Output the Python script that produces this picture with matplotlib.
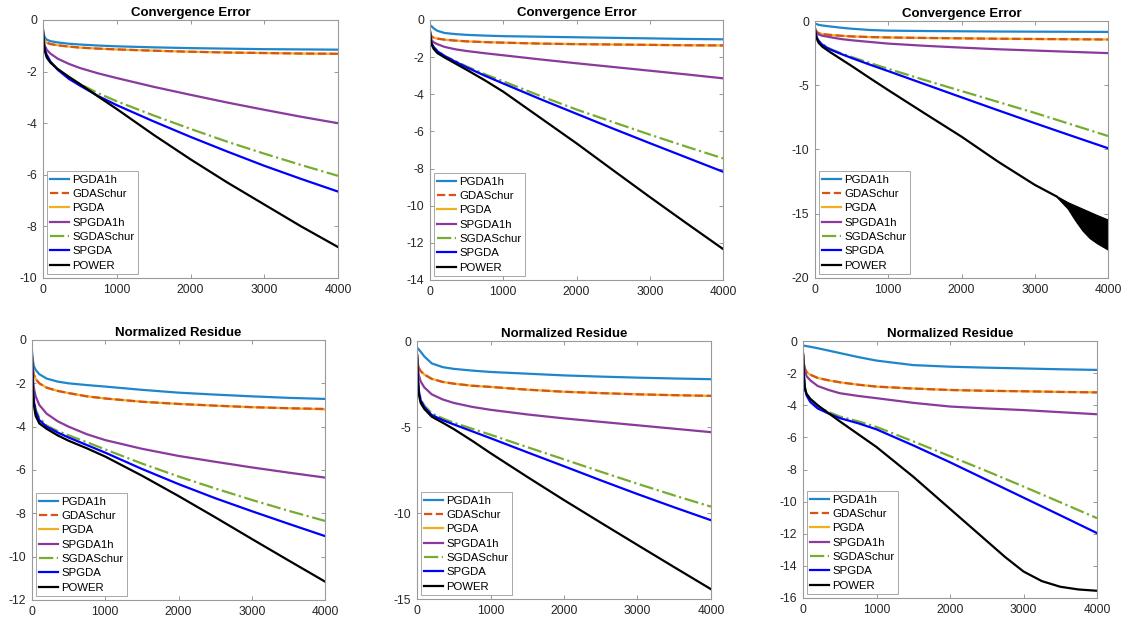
import matplotlib
matplotlib.use("Agg")
import matplotlib.pyplot as plt

plt.rcParams["font.family"] = ["Liberation Sans", "DejaVu Sans"]
plt.rcParams["axes.unicode_minus"] = False

# iteration grid shared by the curves
XS = [0, 10, 25, 50, 100, 200, 350, 500, 750, 1000, 1500, 2000, 2500, 3000, 3500, 4000]

LABELS = ["PGDA1h", "GDASchur", "PGDA", "SPGDA1h", "SGDASchur", "SPGDA", "POWER"]
COLORS = ["#1f86cc", "#D95319", "#EDB120", "#8a3a9c", "#77AC30", "#0000ff", "#000000"]
STYLES = ["-", "--", "-", "-", "-.", "-", "-"]

# Convergence Error, panel 1
ce1_pgda1h = [-0.35, -0.55, -0.68, -0.76, -0.82, -0.87, -0.92, -0.95, -0.99, -1.02, -1.06, -1.09, -1.11, -1.13, -1.14, -1.15]
ce1_gdaschur = [-0.5, -0.7, -0.82, -0.88, -0.93, -0.98, -1.03, -1.07, -1.11, -1.14, -1.19, -1.23, -1.26, -1.28, -1.3, -1.31]
ce1_pgda = [-0.5, -0.7, -0.82, -0.88, -0.93, -0.98, -1.03, -1.07, -1.11, -1.14, -1.19, -1.23, -1.26, -1.28, -1.3, -1.31]
ce1_spgda1h = [-0.5, -0.8, -1.0, -1.15, -1.3, -1.5, -1.7, -1.86, -2.07, -2.25, -2.59, -2.9, -3.2, -3.48, -3.75, -4.0]
ce1_sgdaschur = [-0.5, -0.9, -1.15, -1.35, -1.6, -1.9, -2.23, -2.48, -2.84, -3.15, -3.7, -4.22, -4.72, -5.18, -5.62, -6.04]
ce1_spgda = [-0.5, -0.9, -1.15, -1.35, -1.62, -1.93, -2.28, -2.54, -2.95, -3.3, -3.93, -4.53, -5.1, -5.65, -6.16, -6.65]
ce1_power = [-0.4, -0.9, -1.2, -1.45, -1.65, -1.9, -2.2, -2.48, -2.97, -3.45, -4.45, -5.4, -6.3, -7.15, -8.0, -8.8]

# Convergence Error, panel 2
ce2_pgda1h = [-0.3, -0.3, -0.35, -0.45, -0.58, -0.7, -0.76, -0.8, -0.84, -0.87, -0.9, -0.93, -0.96, -0.99, -1.02, -1.04]
ce2_gdaschur = [-0.6, -0.8, -0.9, -0.95, -1.0, -1.06, -1.11, -1.15, -1.19, -1.22, -1.27, -1.3, -1.32, -1.34, -1.36, -1.37]
ce2_pgda = [-0.6, -0.8, -0.9, -0.95, -1.0, -1.06, -1.11, -1.15, -1.19, -1.22, -1.27, -1.3, -1.32, -1.34, -1.36, -1.37]
ce2_spgda1h = [-0.7, -0.95, -1.1, -1.2, -1.3, -1.45, -1.58, -1.67, -1.79, -1.9, -2.12, -2.33, -2.53, -2.73, -2.93, -3.14]
ce2_sgdaschur = [-0.7, -1.05, -1.3, -1.45, -1.65, -1.93, -2.22, -2.5, -2.92, -3.3, -4.08, -4.82, -5.5, -6.17, -6.82, -7.45]
ce2_spgda = [-0.7, -1.05, -1.3, -1.45, -1.68, -1.95, -2.25, -2.55, -3.0, -3.42, -4.25, -5.05, -5.85, -6.63, -7.4, -8.17]
ce2_power = [-0.6, -1.1, -1.35, -1.55, -1.78, -2.02, -2.35, -2.68, -3.25, -3.86, -5.25, -6.64, -8.09, -9.53, -10.94, -12.33]

# Convergence Error, panel 3
ce3_pgda1h = [-0.2, -0.22, -0.25, -0.3, -0.35, -0.42, -0.52, -0.6, -0.7, -0.75, -0.78, -0.8, -0.82, -0.83, -0.84, -0.85]
ce3_gdaschur = [-0.55, -0.7, -0.85, -0.95, -1.02, -1.08, -1.15, -1.2, -1.25, -1.28, -1.32, -1.35, -1.38, -1.4, -1.42, -1.44]
ce3_pgda = [-0.55, -0.7, -0.85, -0.95, -1.02, -1.08, -1.15, -1.2, -1.25, -1.28, -1.32, -1.35, -1.38, -1.4, -1.42, -1.44]
ce3_spgda1h = [-0.7, -0.85, -0.95, -1.05, -1.15, -1.25, -1.4, -1.5, -1.63, -1.76, -1.93, -2.07, -2.2, -2.3, -2.4, -2.5]
ce3_sgdaschur = [-0.7, -1.0, -1.3, -1.55, -1.8, -2.15, -2.5, -2.8, -3.27, -3.72, -4.6, -5.45, -6.3, -7.15, -8.05, -8.95]
ce3_spgda = [-0.7, -1.0, -1.3, -1.55, -1.85, -2.2, -2.55, -2.88, -3.4, -3.9, -4.92, -5.94, -6.95, -7.95, -8.93, -9.9]
# POWER up to where it starts to oscillate
ce3_power_x = [0, 10, 25, 50, 100, 200, 350, 500, 750, 1000, 1500, 2000, 2500, 3000, 3300]
ce3_power = [-0.7, -1.05, -1.4, -1.7, -2.0, -2.4, -2.95, -3.5, -4.45, -5.38, -7.2, -9.0, -10.95, -12.75, -13.66]
# oscillating tail of POWER in panel 3 (upper / lower envelope)
ce3_osc_x = [3300, 3450, 3550, 3650, 3750, 3850, 4000]
ce3_osc_hi = [-13.62, -14.1, -14.35, -14.6, -14.85, -15.1, -15.45]
ce3_osc_lo = [-13.7, -14.6, -15.5, -16.3, -16.9, -17.3, -17.8]

# Normalized Residue, panel 1
nr1_pgda1h = [-0.5, -0.9, -1.2, -1.38, -1.58, -1.78, -1.92, -2.0, -2.08, -2.15, -2.3, -2.43, -2.52, -2.6, -2.67, -2.72]
nr1_gdaschur = [-0.8, -1.3, -1.6, -1.8, -2.0, -2.2, -2.35, -2.45, -2.6, -2.7, -2.85, -2.95, -3.03, -3.1, -3.15, -3.18]
nr1_pgda = [-0.8, -1.3, -1.6, -1.8, -2.0, -2.2, -2.35, -2.45, -2.6, -2.7, -2.85, -2.95, -3.03, -3.1, -3.15, -3.2]
nr1_spgda1h = [-0.8, -1.6, -2.2, -2.6, -3.0, -3.4, -3.75, -4.0, -4.35, -4.62, -5.02, -5.35, -5.62, -5.88, -6.12, -6.35]
nr1_sgdaschur = [-0.8, -1.9, -2.7, -3.2, -3.6, -3.95, -4.2, -4.4, -4.72, -5.05, -5.7, -6.3, -6.85, -7.38, -7.88, -8.35]
nr1_spgda = [-0.8, -2.0, -2.8, -3.3, -3.7, -4.0, -4.27, -4.5, -4.85, -5.2, -5.95, -6.65, -7.3, -7.9, -8.48, -9.05]
nr1_power = [-0.8, -2.2, -3.0, -3.5, -3.85, -4.1, -4.4, -4.65, -5.0, -5.38, -6.26, -7.2, -8.18, -9.18, -10.17, -11.15]

# Normalized Residue, panel 2
nr2_pgda1h = [-0.4, -0.42, -0.5, -0.62, -0.9, -1.3, -1.52, -1.62, -1.72, -1.8, -1.9, -2.0, -2.07, -2.13, -2.18, -2.22]
nr2_gdaschur = [-0.8, -1.2, -1.55, -1.75, -1.95, -2.2, -2.38, -2.48, -2.6, -2.67, -2.83, -2.95, -3.03, -3.1, -3.15, -3.19]
nr2_pgda = [-0.8, -1.2, -1.55, -1.75, -1.95, -2.2, -2.38, -2.48, -2.6, -2.67, -2.83, -2.95, -3.03, -3.1, -3.15, -3.19]
nr2_spgda1h = [-0.8, -1.5, -2.0, -2.35, -2.7, -3.1, -3.4, -3.6, -3.83, -4.0, -4.27, -4.5, -4.7, -4.9, -5.1, -5.3]
nr2_sgdaschur = [-0.8, -2.0, -2.9, -3.4, -3.75, -4.2, -4.5, -4.75, -5.1, -5.45, -6.17, -6.88, -7.6, -8.3, -8.98, -9.63]
nr2_spgda = [-0.8, -2.0, -2.9, -3.45, -3.85, -4.3, -4.6, -4.85, -5.25, -5.65, -6.47, -7.28, -8.1, -8.9, -9.67, -10.42]
nr2_power = [-0.8, -2.2, -3.1, -3.6, -3.95, -4.4, -4.75, -5.12, -5.8, -6.52, -7.9, -9.25, -10.56, -11.86, -13.15, -14.43]

# Normalized Residue, panel 3
nr3_pgda1h = [-0.3, -0.3, -0.3, -0.32, -0.36, -0.45, -0.6, -0.75, -1.0, -1.22, -1.5, -1.6, -1.66, -1.71, -1.76, -1.8]
nr3_gdaschur = [-0.8, -1.3, -1.7, -1.95, -2.1, -2.3, -2.45, -2.57, -2.72, -2.84, -2.96, -3.05, -3.1, -3.13, -3.17, -3.2]
nr3_pgda = [-0.8, -1.3, -1.7, -1.95, -2.1, -2.3, -2.45, -2.57, -2.72, -2.84, -2.96, -3.05, -3.1, -3.13, -3.17, -3.2]
nr3_spgda1h = [-0.8, -1.5, -1.9, -2.2, -2.45, -2.8, -3.05, -3.25, -3.42, -3.56, -3.85, -4.08, -4.2, -4.3, -4.43, -4.56]
nr3_sgdaschur = [-0.8, -1.9, -2.8, -3.3, -3.7, -4.1, -4.42, -4.7, -5.0, -5.35, -6.25, -7.17, -8.1, -9.06, -10.04, -11.03]
nr3_spgda = [-0.8, -2.0, -2.9, -3.4, -3.8, -4.2, -4.52, -4.8, -5.12, -5.5, -6.5, -7.55, -8.65, -9.75, -10.85, -11.96]
# POWER flattens near the end, so it gets a finer grid
nr3_power_x = [0, 10, 25, 50, 100, 200, 350, 500, 750, 1000, 1500, 2000, 2500, 2750, 3000, 3250, 3500, 3750, 4000]
nr3_power = [-0.8, -2.2, -3.0, -3.3, -3.6, -4.0, -4.5, -5.0, -5.8, -6.6, -8.45, -10.45, -12.45, -13.45, -14.35, -14.95, -15.3, -15.47, -15.55]

panels = [
    ("Convergence Error", [ce1_pgda1h, ce1_gdaschur, ce1_pgda, ce1_spgda1h, ce1_sgdaschur, ce1_spgda, ce1_power], (-10, 0), 2),
    ("Convergence Error", [ce2_pgda1h, ce2_gdaschur, ce2_pgda, ce2_spgda1h, ce2_sgdaschur, ce2_spgda, ce2_power], (-14, 0), 2),
    ("Convergence Error", [ce3_pgda1h, ce3_gdaschur, ce3_pgda, ce3_spgda1h, ce3_sgdaschur, ce3_spgda, ce3_power], (-20, 0), 5),
    ("Normalized Residue", [nr1_pgda1h, nr1_gdaschur, nr1_pgda, nr1_spgda1h, nr1_sgdaschur, nr1_spgda, nr1_power], (-12, 0), 2),
    ("Normalized Residue", [nr2_pgda1h, nr2_gdaschur, nr2_pgda, nr2_spgda1h, nr2_sgdaschur, nr2_spgda, nr2_power], (-15, 0), 5),
    ("Normalized Residue", [nr3_pgda1h, nr3_gdaschur, nr3_pgda, nr3_spgda1h, nr3_sgdaschur, nr3_spgda, nr3_power], (-16, 0), 2),
]
power_x = {2: ce3_power_x, 5: nr3_power_x}

# axes boxes in pixels: left, right, top, bottom
boxes = [(43, 338, 20, 278), (430, 723, 20, 280), (815, 1108, 21, 278),
         (32, 325, 340, 600), (417, 711, 341, 599), (803, 1097, 341, 598)]

W, H = 1127, 627
fig = plt.figure(figsize=(W / 100, H / 100), dpi=100)

for i, ((title, series, ylim, step), (l, r, t, b)) in enumerate(zip(panels, boxes)):
    ax = fig.add_axes([l / W, 1 - b / H, (r - l) / W, (b - t) / H])
    # draw PGDA under GDASchur so the dashes stay visible
    order = [0, 2, 1, 3, 4, 5, 6]
    handles = {}
    for k in order:
        xs = power_x.get(i, XS) if k == 6 else XS
        ln, = ax.plot(xs, series[k], color=COLORS[k], linestyle=STYLES[k], lw=1.6, label=LABELS[k])
        handles[k] = ln
    if i == 2:
        ax.fill_between(ce3_osc_x, ce3_osc_lo, ce3_osc_hi, color="black", lw=0.8)
    ax.set_xlim(0, 4000)
    ax.set_ylim(*ylim)
    ax.set_xticks([0, 1000, 2000, 3000, 4000])
    ax.set_yticks(list(range(ylim[0], 1, step)))
    ax.tick_params(direction="in", length=3, width=0.6, color="#888888",
                   labelsize=8.7, labelcolor="#262626", top=True, right=True, pad=4)
    for sp in ax.spines.values():
        sp.set_color("#9a9a9a")
        sp.set_linewidth(0.8)
    ax.set_title(title, fontsize=9.5, fontweight="bold", pad=3)
    leg = ax.legend([handles[k] for k in range(7)], LABELS, loc="lower left",
                    fontsize=8.2, labelspacing=0.38, handlelength=1.6, handletextpad=0.3,
                    borderpad=0.3, borderaxespad=0.35, fancybox=False, framealpha=1)
    leg.get_frame().set_edgecolor("#9a9a9a")
    leg.get_frame().set_linewidth(0.6)

plt.savefig("out.png", dpi=100)
